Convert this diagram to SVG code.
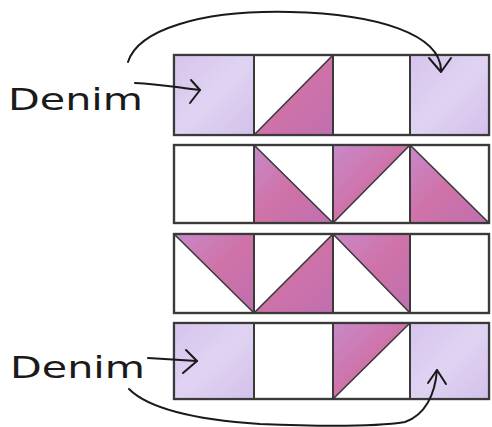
<svg xmlns="http://www.w3.org/2000/svg" width="492" height="427" viewBox="0 0 492 427">
<defs>
<linearGradient id="denim" x1="0" y1="0" x2="1" y2="1">
<stop offset="0" stop-color="#d5c4ec"/><stop offset="0.5" stop-color="#e0d3f2"/><stop offset="1" stop-color="#d2c0ea"/>
</linearGradient>
<linearGradient id="pink" x1="0" y1="0" x2="1" y2="1">
<stop offset="0" stop-color="#c889c8"/><stop offset="0.5" stop-color="#cf72a8"/><stop offset="1" stop-color="#bf6fb0"/>
</linearGradient>
</defs>
<style>
.row{fill:#fff;stroke:#3a3a3a;stroke-width:2.2}
.frame{fill:none;stroke:#3a3a3a;stroke-width:2.2}
.div{stroke:#3a3a3a;stroke-width:2}
.den{fill:url(#denim)}
.tri{fill:url(#pink);stroke:#3a3a3a;stroke-width:1.6;stroke-linejoin:round}
.ink{fill:none;stroke:#1a1a1a;stroke-width:2;stroke-linecap:round;stroke-linejoin:round}
.lbl{font-family:"DejaVu Sans","Liberation Sans",sans-serif;font-size:31px;fill:#1a1a1a}
</style>
<g id="row1">
<rect class="row" x="174" y="55" width="315" height="80"/>
<rect class="den" x="174" y="55" width="80" height="80"/>
<rect class="den" x="410" y="55" width="79" height="80"/>
<polygon class="tri" points="254,135 333,55 333,135"/>
<rect class="frame" x="174" y="55" width="315" height="80"/>
<line class="div" x1="254" y1="55" x2="254" y2="135"/>
<line class="div" x1="333" y1="55" x2="333" y2="135"/>
<line class="div" x1="410" y1="55" x2="410" y2="135"/>
</g>
<g id="row2">
<rect class="row" x="174" y="145" width="315" height="78"/>
<polygon class="tri" points="254,145 333,223 254,223"/>
<polygon class="tri" points="333,145 410,145 333,223"/>
<polygon class="tri" points="410,145 489,223 410,223"/>
<rect class="frame" x="174" y="145" width="315" height="78"/>
<line class="div" x1="254" y1="145" x2="254" y2="223"/>
<line class="div" x1="333" y1="145" x2="333" y2="223"/>
<line class="div" x1="410" y1="145" x2="410" y2="223"/>
</g>
<g id="row3">
<rect class="row" x="174" y="234" width="315" height="79"/>
<polygon class="tri" points="174,234 254,234 254,313"/>
<polygon class="tri" points="254,313 333,234 333,313"/>
<polygon class="tri" points="333,234 410,234 410,313"/>
<rect class="frame" x="174" y="234" width="315" height="79"/>
<line class="div" x1="254" y1="234" x2="254" y2="313"/>
<line class="div" x1="333" y1="234" x2="333" y2="313"/>
<line class="div" x1="410" y1="234" x2="410" y2="313"/>
</g>
<g id="row4">
<rect class="row" x="174" y="323" width="315" height="76"/>
<rect class="den" x="174" y="323" width="80" height="76"/>
<rect class="den" x="410" y="323" width="79" height="76"/>
<polygon class="tri" points="333,323 410,323 333,399"/>
<rect class="frame" x="174" y="323" width="315" height="76"/>
<line class="div" x1="254" y1="323" x2="254" y2="399"/>
<line class="div" x1="333" y1="323" x2="333" y2="399"/>
<line class="div" x1="410" y1="323" x2="410" y2="399"/>
</g>
<g id="label-top">
<text class="lbl" x="8" y="110" textLength="135" lengthAdjust="spacingAndGlyphs">Denim</text>
</g>
<g id="label-bottom">
<text class="lbl" x="10" y="378" textLength="135" lengthAdjust="spacingAndGlyphs">Denim</text>
</g>
<g id="connectors">
<path class="ink" d="M135,83 C160,84 180,88 200,90"/>
<path class="ink" d="M191,80 L200,90 L190,103"/>
<path class="ink" d="M128,62 C138,30 200,10 290,12 C380,14 440,35 441,70"/>
<path class="ink" d="M429,58 L441,72 L451,58"/>
<path class="ink" d="M148,358 C165,359 180,360 197,361"/>
<path class="ink" d="M186,350 L197,361 L183,373"/>
<path class="ink" d="M129,389 C150,410 200,420 260,424 C330,427 380,426 405,422 C425,415 435,395 437,370"/>
<path class="ink" d="M428,383 L437,370 L446,384"/>
</g>
</svg>
